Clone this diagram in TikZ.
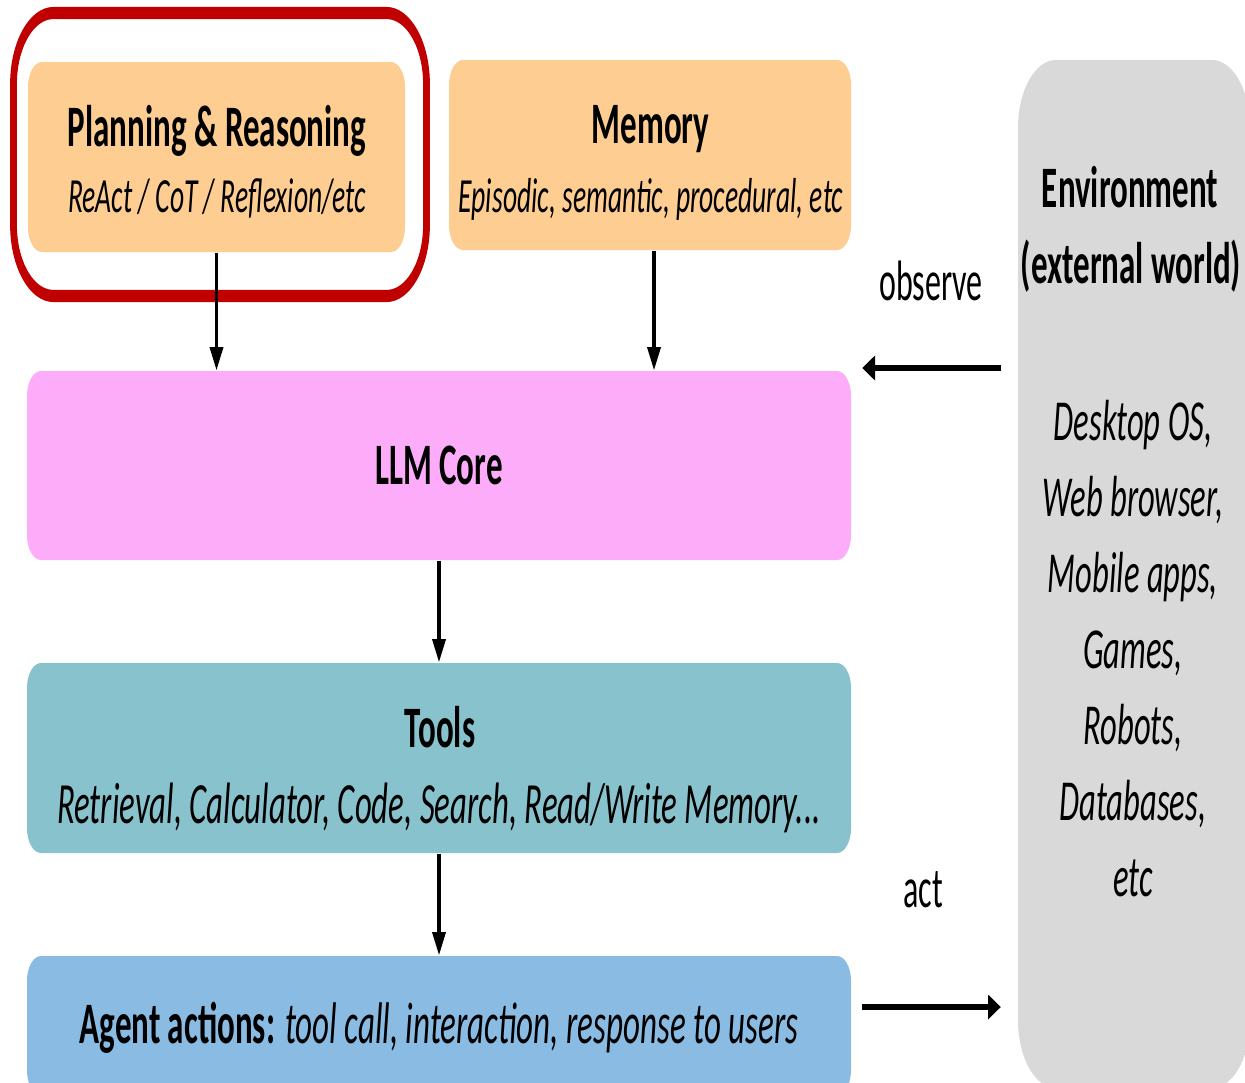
\documentclass[tikz,border=0pt]{standalone}
\usepackage{fontspec}
\setmainfont{Carlito}
\usetikzlibrary{arrows.meta}

\definecolor{cardorange}{RGB}{254,205,145}
\definecolor{corepink}{RGB}{252,172,248}
\definecolor{toolteal}{RGB}{136,194,204}
\definecolor{actblue}{RGB}{137,187,227}
\definecolor{envgray}{RGB}{217,217,217}
\definecolor{focusred}{RGB}{192,0,0}

\tikzset{
  card/.style={draw=none, rounded corners=7pt, inner sep=0pt},
  boxsize/.style 2 args={minimum width={#1*0.5pt}, minimum height={#2*0.2809pt}},
  titletext/.style={inner sep=0pt, anchor=base, font=\fontsize{16.5pt}{20pt}\selectfont\bfseries},
  subtext/.style={inner sep=0pt, anchor=base, font=\fontsize{13.8pt}{16pt}\selectfont\itshape},
  envitem/.style={inner sep=0pt, anchor=base, font=\fontsize{16.3pt}{19pt}\selectfont\itshape},
  flowlabel/.style={inner sep=0pt, anchor=base, font=\fontsize{16pt}{19pt}\selectfont},
  varrow/.style={line width=1.8pt, -{Triangle[length=6.5pt,width=6.5pt]}},
}

\begin{document}
\begin{tikzpicture}[x=0.5pt,y=-0.5pt]
\useasboundingbox (0,0) rectangle (1245,1082);
\clip (0,0) rectangle (1245,1082);
% everything is laid out on a flattened grid, then stretched vertically
\begin{scope}[x=0.5pt, y=-0.2809pt, transform canvas={yscale=1.78}]

  % highlight frame round the planning card
  \node[draw=focusred, line width=3.4pt, rounded corners=20pt, boxsize={413}{283}, inner sep=0pt]
    (focus) at (220,154.5) {};

  % cards
  \node[card, fill=cardorange, boxsize={377}{190}] (plan) at (216.5,157) {};
  \node[card, fill=cardorange, boxsize={402}{190}] (mem) at (650,155) {};
  \node[card, fill=corepink, boxsize={824}{189},
        font=\fontsize{16.5pt}{20pt}\selectfont\bfseries] (llm) at (439,465.5) {LLM Core};
  \node[card, fill=toolteal, boxsize={824}{190}] (tools) at (439,758) {};
  \node[card, fill=actblue, boxsize={824}{139}] (agent) at (439,1025.5) {};
  \node[card, fill=envgray, rounded corners=19pt, boxsize={232}{1028}] (env) at (1134,574) {};

  % card texts
  \node[titletext] (planT) at (217,146) {Planning \& Reasoning};
  \node[subtext] (planS) at (217,212) {ReAct / CoT / Reflexion/etc};
  \node[titletext] (memT) at (650.5,143) {Memory};
  \node[subtext] (memS) at (651,212) {Episodic, semantic, procedural, etc};
  \node[titletext] (toolsT) at (440,747) {Tools};
  \node[subtext, font=\fontsize{16.4pt}{19pt}\selectfont\itshape] (toolsS) at (439,823)
    {Retrieval, Calculator, Code, Search, Read/Write Memory...};
  \node[inner sep=0pt, anchor=base, font=\fontsize{16.5pt}{19pt}\selectfont] (agentT) at (439,1043)
    {\textbf{Agent actions:} \textit{tool call, interaction, response to users}};

  \node[titletext] (envT) at (1130,207) {Environment};
  \node[titletext] (envW) at (1131,283) {(external world)};
  \foreach \t [count=\i] in {{Desktop OS,},{Web browser,},{Mobile apps,},{Games,},{Robots,},{Databases,},{etc}}
    \node[envitem] (env\i) at (1133,{440+76*(\i-1)}) {\t};

  % flow between the cards
  \draw[varrow] (plan.south) -- (plan.south |- llm.north);
  \draw[varrow] ([xshift=2pt]mem.south) -- ([xshift=2pt]mem.south |- llm.north);
  \draw[varrow] (llm.south) -- (tools.north);
  \draw[varrow] (tools.south) -- (agent.north);

  % exchange with the environment
  \coordinate (obsFrom) at (1001,368);
  \coordinate (obsTo) at (862,368);
  \coordinate (actFrom) at (862,1007);
  \coordinate (actTo) at (1001,1007);
  \draw[varrow] (obsFrom) -- (obsTo);
  \draw[varrow] (actFrom) -- (actTo);
  \node[flowlabel] (obsL) at (931,300) {observe};
  \node[flowlabel] (actL) at (923,907) {act};

\end{scope}
\end{tikzpicture}
\end{document}
